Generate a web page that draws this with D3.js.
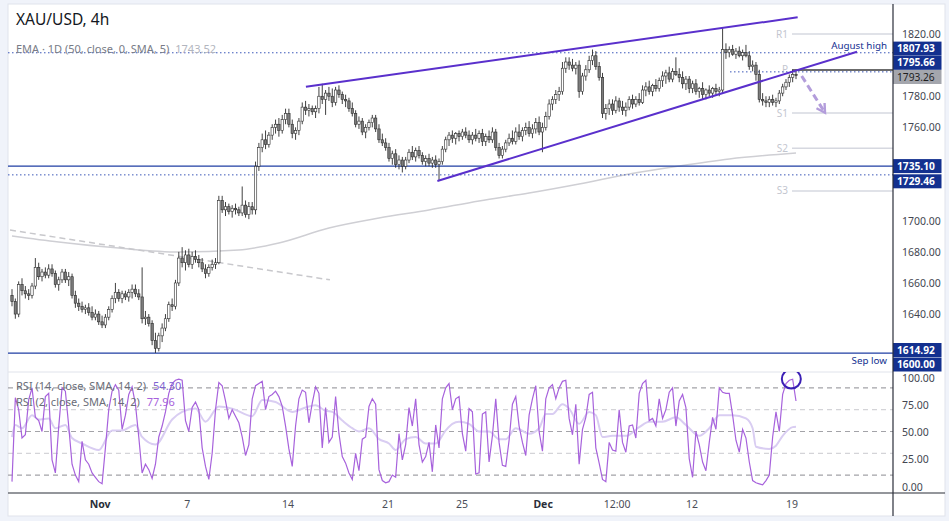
<!DOCTYPE html>
<html><head><meta charset="utf-8">
<script src="https://cdn.jsdelivr.net/npm/d3@7"></script>
<style>
html,body{margin:0;padding:0;background:#fff;}
svg{display:block;font-family:"Noto Sans",sans-serif;}
</style></head><body>
<svg id="c" width="949" height="521"></svg>
<script>
// ---------- DATA ----------
const opens = [
1652,1648,1640,1659,1655,1653,1652,1658,1670,1664,
1667,1665,1669,1666,1659,1662,1667,1662,1664,1652,
1647,1645,1643,1644,1641,1638,1640,1635,1633,1638,
1643,1650,1654,1650,1653,1651,1654,1656,1653,1651,
1637,1638,1634,1623,1618,1626,1631,1637,1646,1645,
1660,1676,1673,1678,1672,1677,1675,1673,1669,1666,
1670,1672,1673,1713,1707,1709,1706,1708,1707,1705,
1710,1704,1709,1707,1735,1747,1752,1749,1755,1760,
1762,1758,1765,1769,1762,1756,1758,1764,1773,1771,
1772,1770,1772,1780,1778,1782,1780,1776,1784,1781,
1778,1777,1772,1769,1762,1764,1757,1760,1763,1766,
1759,1752,1750,1747,1740,1743,1736,1739,1735,1739,
1744,1741,1745,1742,1738,1740,1737,1739,1736,1738,
1746,1752,1755,1753,1756,1754,1757,1755,1752,1755,
1753,1756,1751,1754,1752,1757,1747,1742,1746,1750,
1753,1751,1757,1754,1758,1760,1756,1759,1763,1757,
1760,1767,1775,1778,1781,1783,1798,1802,1800,1798,
1800,1783,1793,1797,1803,1806,1799,1792,1769,1772,
1775,1771,1777,1773,1771,1773,1778,1775,1778,1776,
1784,1786,1783,1787,1785,1790,1793,1795,1791,1796,
1794,1792,1788,1791,1785,1788,1783,1785,1781,1784,
1782,1785,1783,1784,1810,1808,1810,1807,1809,1806,
1808,1806,1799,1800,1794,1778,1777,1776,1778,1776,
1777,1782,1786,1789,1792,1794];
const highs = [
1656,1650,1661,1663,1658,1656,1660,1676,1673,1669,
1670,1672,1672,1668,1664,1669,1669,1667,1666,1655,
1650,1648,1646,1647,1645,1643,1642,1639,1640,1645,
1652,1660,1656,1655,1655,1656,1659,1659,1656,1670,
1642,1640,1636,1628,1628,1634,1640,1648,1650,1662,
1680,1683,1681,1682,1680,1681,1678,1676,1672,1672,
1675,1676,1716,1716,1712,1711,1710,1711,1709,1722,
1713,1712,1712,1738,1750,1756,1758,1757,1762,1765,
1766,1768,1772,1772,1765,1760,1766,1776,1777,1775,
1774,1774,1786,1788,1784,1786,1785,1786,1787,1783,
1781,1779,1776,1771,1767,1766,1762,1765,1768,1768,
1762,1756,1753,1750,1745,1746,1742,1741,1741,1746,
1748,1747,1748,1744,1742,1743,1741,1742,1740,1748,
1754,1757,1758,1757,1758,1759,1760,1758,1757,1759,
1758,1759,1756,1758,1760,1759,1750,1748,1752,1756,
1758,1760,1762,1760,1763,1764,1762,1766,1767,1763,
1770,1778,1780,1784,1786,1802,1805,1805,1804,1802,
1803,1795,1800,1806,1810,1809,1802,1795,1775,1778,
1778,1780,1779,1777,1776,1780,1781,1780,1782,1787,
1789,1790,1788,1791,1792,1796,1797,1799,1798,1805,
1798,1796,1793,1793,1790,1791,1786,1789,1785,1787,
1786,1788,1786,1824,1814,1812,1813,1811,1812,1810,
1813,1809,1803,1802,1797,1782,1780,1780,1781,1779,
1784,1788,1791,1794,1797,1797];
const lows = [
1645,1637,1638,1652,1650,1649,1650,1656,1662,1661,
1663,1663,1664,1657,1655,1660,1660,1658,1650,1644,
1642,1641,1640,1639,1636,1636,1633,1631,1631,1636,
1641,1647,1648,1647,1649,1648,1650,1651,1649,1634,
1633,1632,1620,1615,1616,1622,1629,1635,1642,1643,
1658,1670,1668,1670,1669,1673,1670,1667,1663,1664,
1668,1669,1672,1705,1703,1704,1702,1704,1703,1703,
1702,1701,1704,1704,1732,1744,1746,1747,1752,1756,
1754,1756,1762,1760,1753,1752,1755,1762,1768,1767,
1768,1766,1769,1775,1768,1777,1773,1774,1779,1775,
1773,1770,1767,1760,1759,1755,1753,1758,1760,1757,
1750,1748,1745,1738,1736,1734,1733,1731,1733,1737,
1739,1738,1740,1736,1735,1735,1734,1734,1726,1736,
1744,1748,1750,1749,1751,1752,1753,1750,1749,1751,
1750,1748,1748,1750,1750,1745,1740,1740,1744,1748,
1749,1749,1752,1751,1755,1754,1753,1756,1755,1744,
1758,1765,1771,1775,1777,1781,1795,1797,1796,1794,
1779,1781,1790,1795,1800,1797,1790,1766,1765,1768,
1768,1769,1770,1768,1767,1771,1772,1773,1774,1775,
1780,1781,1780,1783,1783,1786,1788,1789,1789,1793,
1789,1785,1784,1782,1782,1781,1779,1778,1778,1780,
1779,1781,1780,1782,1804,1805,1806,1804,1805,1803,
1805,1797,1796,1790,1776,1774,1773,1773,1774,1773,
1775,1780,1784,1786,1789,1791];
const closes = [
1648,1640,1659,1655,1653,1652,1658,1670,1664,1667,
1665,1669,1666,1659,1662,1667,1662,1664,1652,1647,
1645,1643,1644,1641,1638,1640,1635,1633,1638,1643,
1650,1654,1650,1653,1651,1654,1656,1653,1651,1637,
1638,1634,1623,1618,1626,1631,1637,1646,1645,1660,
1676,1673,1678,1672,1677,1675,1673,1669,1666,1670,
1672,1673,1713,1707,1709,1706,1708,1707,1705,1710,
1704,1709,1707,1735,1747,1752,1749,1755,1760,1762,
1758,1765,1769,1762,1756,1758,1764,1773,1771,1772,
1770,1772,1780,1778,1782,1780,1776,1784,1781,1778,
1777,1772,1769,1762,1764,1757,1760,1763,1766,1759,
1752,1750,1747,1740,1743,1736,1739,1735,1739,1744,
1741,1745,1742,1738,1740,1737,1739,1736,1738,1746,
1752,1755,1753,1756,1754,1757,1755,1752,1755,1753,
1756,1751,1754,1752,1757,1747,1742,1746,1750,1753,
1751,1757,1754,1758,1760,1756,1759,1763,1757,1760,
1767,1775,1778,1781,1783,1798,1802,1800,1798,1800,
1783,1793,1797,1803,1806,1799,1792,1769,1772,1775,
1771,1777,1773,1771,1773,1778,1775,1778,1776,1784,
1786,1783,1787,1785,1790,1793,1795,1791,1796,1794,
1792,1788,1791,1785,1788,1783,1785,1781,1784,1782,
1785,1783,1784,1810,1808,1810,1807,1809,1806,1808,
1806,1799,1800,1794,1778,1777,1776,1778,1776,1777,
1782,1786,1789,1792,1794,1793.26];

// RSI(2) value per bar
const rsi2 = [
4,81,70,44,47,79,90,63,60,50,
82,85,24,12,54,90,87,55,20,10,
4,41,24,20,12,8,4,2,35,70,
87,93,88,52,65,84,91,75,45,12,
20,15,7,20,45,55,68,85,94,97,
98,97,60,50,72,77,70,35,18,6,
30,70,95,92,78,62,70,64,58,45,
28,38,80,92,94,96,70,82,84,87,
82,73,55,34,18,55,80,88,86,58,
76,91,85,35,72,40,45,82,48,27,
21,12,6,30,14,43,45,73,80,75,
15,5,3,4,10,8,48,24,38,72,
55,80,38,22,27,40,13,56,35,80,
90,94,70,80,82,48,32,71,68,11,
12,66,68,22,46,80,40,19,18,42,
75,82,55,40,28,65,80,92,50,32,
80,90,93,80,90,96,97,62,47,75,
20,52,63,84,86,35,21,6,4,40,
33,32,70,40,31,55,56,44,85,94,
97,60,62,55,80,62,70,86,90,55,
78,84,72,25,8,50,38,22,14,40,
63,52,90,86,85,85,65,42,31,52,
44,22,5,3,2,1,5,10,45,68,
50,84,94,97,98,77.96];

// smoothed RSI line (bar index, value)
const rsiSmoothIdx = [0,1,3,6,8,11,13,16,18,21,26,30,33,37,39,43,48,51,55,58,62,66,72,75,79,84,88,91,94,96,99,102,104,107,110,113,115,118,121,124,127,130,132,134,137,140,143,146,148,151,155,158,160,162,165,167,170,173,175,177,180,184,188,191,195,199,202,206,209,212,216,220,222,223,227,229,231,234,235];
const rsiSmoothVal = [45,56,53,65,61,62,53,56,44,39,33,51,51,56,45,38,61,68,71,59,73,71,64,79,77,68,72,74,69,68,60,53,50,53,43,39,33,43,45,39,39,51,57,59,57,50,50,43,43,53,48,53,66,66,75,71,57,68,65,45,46,46,54,59,59,63,56,46,53,65,65,62,53,36,34,37,46,54,54.3];

// EMA 1D (50) line (bar index, price)
const emaIdx = [0,14,32,50,68,80,95,110,125,140,155,170,185,200,215,235];
const emaVal = [1690.2,1686.3,1682.4,1679.9,1681.2,1685.7,1695.3,1701.7,1706.9,1712.7,1717.8,1723.6,1730.0,1735.2,1739.7,1743.52];

// axis ticks
const priceTicks = [1620,1640,1660,1680,1700,1720,1740,1760,1780,1800,1820];
const rsiTicks = [0,25,50,75,100];
const rsiLevels = [90,70,50,30,10];
const dateTickIdx = [26.4,52.5,82.7,112.7,134.9,159.2,181.4,203.8,233.8];
const dateTickLbl = ["Nov","7","14","21","25","Dec","12:00","12","19"];

// levels / drawings
const pivotNames = ["R1","P","S1","S2","S3"];
const pivotVals = [1820.0,1796.9,1769.2,1746.5,1719.1];
const upperLine = [[88.1,1786.1],[235.5,1830.7]];
const lowerLine = [[127.5,1725.5],[253.3,1808.6]];
const greyDash = [[-0.6,1694],[95.3,1662]];
const arrowPts = [[236.7,1793],[243.7,1769.4]];
const augHigh = 1807.93, ray1795 = 1795.66, lvl1735 = 1735.10, lvl1729 = 1729.46, sepLow = 1614.92, lastPrice = 1793.26;
const emaLast = 1743.52, rsi14Last = 54.30, rsi2Last = 77.96;

// ---------- DRAW ----------
const svg = d3.select("#c");
const L=8, R=893, T=4, PB=372, RB=493, B=516, RE=945;
const x = d3.scaleLinear().domain([0,235]).range([12,796]);
const y = d3.scaleLinear().domain([1600,1820]).range([376.3,34]);
const yr = d3.scaleLinear().domain([0,100]).range([486,377]);
const NAVY = "#13308f", LINEBLUE = "#1f3ea3", PURP = "#5a30cc";

const defs = svg.append("defs");
defs.append("clipPath").attr("id","cp").append("rect").attr("x",L).attr("y",T).attr("width",R-L).attr("height",PB-T);
defs.append("clipPath").attr("id","cr").append("rect").attr("x",L).attr("y",PB).attr("width",R-L).attr("height",RB-PB);
defs.append("marker").attr("id","ah").attr("viewBox","0 0 10 10").attr("refX",8).attr("refY",5)
  .attr("markerWidth",4).attr("markerHeight",4).attr("orient","auto")
  .append("path").attr("d","M1,1 L8,5 L1,9").attr("fill","none").attr("stroke","#b39ddb").attr("stroke-width",2);

// background & frame
svg.append("rect").attr("width",949).attr("height",521).attr("fill","#f0f3fa");
svg.append("rect").attr("x",L).attr("y",T).attr("width",RE-L).attr("height",B-T).attr("fill","#fff").attr("stroke","#e0e3eb");

const gp = svg.append("g").attr("clip-path","url(#cp)");
const line = d3.line().x(d=>x(d[0])).y(d=>y(d[1]));

// EMA line
gp.append("path").attr("d", d3.line().curve(d3.curveMonotoneX).x((d,i)=>x(emaIdx[i])).y(d=>y(d))(emaVal))
  .attr("fill","none").attr("stroke","#cfcfd4").attr("stroke-width",1.5);
// grey dashed trend line
gp.append("path").attr("d", line(greyDash)).attr("fill","none").attr("stroke","#c8c8cc").attr("stroke-width",1.5).attr("stroke-dasharray","6,4");

// horizontal levels
function hline(v, x1, x2, color, dash, w){
  gp.append("line").attr("x1",x1).attr("x2",x2).attr("y1",y(v)).attr("y2",y(v))
    .attr("stroke",color).attr("stroke-width",w||1).attr("stroke-dasharray",dash||null);
}
hline(augHigh, L, R, "#3a56b8", "1.5,2.5");
hline(lvl1735, L, R, LINEBLUE, null, 1.2);
hline(lvl1729, L, R, "#3a56b8", "1.5,2.5");
hline(sepLow, L, R, LINEBLUE, null, 1.2);
// pivots
pivotNames.forEach((n,k)=>{
  const isP = n==="P";
  hline(pivotVals[k], 792, R, isP ? "#3a3a3a" : "#d6d8e0", null, 1.5);
  gp.append("text").attr("x",788).attr("y",y(pivotVals[k])+3.5).attr("text-anchor","end")
    .attr("font-size",10).attr("fill","#c3c6cf").text(n);
});
hline(ray1795, 730, R, "#3a56b8", "1.5,2.5");

// candles
const idx = d3.range(closes.length);
gp.append("g").selectAll("line").data(idx).join("line")
  .attr("x1",i=>x(i)).attr("x2",i=>x(i)).attr("y1",i=>y(highs[i])).attr("y2",i=>y(lows[i]))
  .attr("stroke","#2b2b2b").attr("stroke-width",0.9);
gp.append("g").selectAll("rect").data(idx).join("rect")
  .attr("x",i=>x(i)-1.2).attr("width",2.4)
  .attr("y",i=>y(Math.max(opens[i],closes[i])))
  .attr("height",i=>Math.max(0.8, Math.abs(y(opens[i])-y(closes[i]))))
  .attr("fill",i=>closes[i]>=opens[i] ? "#ffffff" : "#7c7c7c")
  .attr("stroke","#2b2b2b").attr("stroke-width",0.6);

// trend lines
[upperLine, lowerLine].forEach(l=>gp.append("path").attr("d",line(l)).attr("fill","none").attr("stroke",PURP).attr("stroke-width",2));
// arrow
gp.append("path").attr("d",line(arrowPts)).attr("fill","none").attr("stroke","#b39ddb").attr("stroke-width",3)
  .attr("stroke-dasharray","7,4").attr("marker-end","url(#ah)");

// text annotations
gp.append("text").attr("x",887).attr("y",y(augHigh)-4).attr("text-anchor","end").attr("font-size",9.8).attr("fill",NAVY).text("August high");
gp.append("text").attr("x",887).attr("y",y(sepLow)+11).attr("text-anchor","end").attr("font-size",9.8).attr("fill",NAVY).text("Sep low");

// legend
svg.append("text").attr("x",16).attr("y",25).attr("font-size",15.5).attr("fill","#131722").text("XAU/USD, 4h");
const leg = svg.append("text").attr("x",16).attr("y",53).attr("font-size",11);
leg.append("tspan").attr("fill","#787b86").text("EMA · 1D (50, close, 0, SMA, 5)");
leg.append("tspan").attr("fill","#b2b5be").attr("dx",6).text(emaLast.toFixed(2));

// pane separator
svg.append("line").attr("x1",L).attr("x2",R).attr("y1",PB).attr("y2",PB).attr("stroke","#e0e3eb");

// ---------- RSI PANE ----------
const gr = svg.append("g").attr("clip-path","url(#cr)");
rsiLevels.forEach(v=>{
  const dark = (v===90||v===10||v===50);
  gr.append("line").attr("x1",L).attr("x2",R).attr("y1",yr(v)).attr("y2",yr(v))
    .attr("stroke", dark ? "#a3a3a8" : "#d4d4d8").attr("stroke-width",1.2).attr("stroke-dasharray","5,4");
});
gr.append("path").attr("d", d3.line().curve(d3.curveMonotoneX).x((d,i)=>x(rsiSmoothIdx[i])).y(d=>yr(d))(rsiSmoothVal))
  .attr("fill","none").attr("stroke","#d9cdf2").attr("stroke-width",2);
gr.append("path").attr("d", d3.line().x((d,i)=>x(i)).y(d=>yr(d))(rsi2))
  .attr("fill","none").attr("stroke","#a762dc").attr("stroke-width",1.2);
gr.append("circle").attr("cx",x(233.6)).attr("cy",yr(98.2)).attr("r",9.5).attr("fill","none").attr("stroke","#3b1fb5").attr("stroke-width",2);

const l1 = svg.append("text").attr("x",16).attr("y",390).attr("font-size",11);
l1.append("tspan").attr("fill","#6a6d78").text("RSI (14, close, SMA, 14, 2)");
l1.append("tspan").attr("fill","#7e63d0").attr("dx",7).text(rsi14Last.toFixed(2));
const l2 = svg.append("text").attr("x",16).attr("y",406).attr("font-size",11);
l2.append("tspan").attr("fill","#6a6d78").text("RSI (2, close, SMA, 14, 2)");
l2.append("tspan").attr("fill","#a762dc").attr("dx",7).text(rsi2Last.toFixed(2));

// ---------- AXES ----------
// label box centres (stacked so that they do not collide)
const cLast = y(lastPrice)+1.4;
const c1735 = y(lvl1735);
const c1600 = Math.min(y(1600), PB-7.5);
const boxes = [
  [cLast, lastPrice, "#a4a6ad", "#1e1e1e", false],
  [cLast-14.2, ray1795, NAVY, "#fff", true],
  [cLast-28.4, augHigh, NAVY, "#fff", true],
  [c1735, lvl1735, NAVY, "#fff", true],
  [c1735+15.2, lvl1729, NAVY, "#fff", true],
  [Math.min(y(sepLow), c1600-14.5), sepLow, NAVY, "#fff", true],
  [c1600, 1600, NAVY, "#fff", true]
];
// price axis labels (skip those hidden behind label boxes)
const visTicks = priceTicks.filter(t => boxes.every(b => Math.abs(y(t) - b[0]) > 13));
const pa = svg.append("g").attr("font-size",10.5).attr("fill","#434651");
pa.selectAll("text").data(visTicks).join("text").attr("x",902).attr("y",d=>y(d)+4).text(d=>d.toFixed(2));
const ra = svg.append("g").attr("font-size",10.5).attr("fill","#434651");
ra.selectAll("text").data(rsiTicks).join("text").attr("x",902).attr("y",d=>yr(d)+4.5).text(d=>d.toFixed(2));

boxes.forEach(b=>{
  svg.append("rect").attr("x",R).attr("y",b[0]-7).attr("width",48.5).attr("height",14).attr("fill",b[2]);
  svg.append("text").attr("x",R+4).attr("y",b[0]+3.6).attr("font-size",10.2).attr("font-weight",b[4]?"bold":"normal")
    .attr("fill",b[3]).text(b[1].toFixed(2));
});

// date axis
const da = svg.append("g").attr("font-size",10.5);
da.selectAll("text").data(dateTickIdx).join("text").attr("x",d=>x(d)).attr("y",508).attr("text-anchor","middle")
  .attr("fill",(d,i)=> (dateTickLbl[i]==="Nov"||dateTickLbl[i]==="Dec") ? "#2a2e39" : "#4a4d57")
  .attr("font-weight",(d,i)=> (dateTickLbl[i]==="Nov"||dateTickLbl[i]==="Dec") ? "bold" : "normal")
  .text((d,i)=>dateTickLbl[i]);

// axis frame lines
svg.append("line").attr("x1",R).attr("x2",R).attr("y1",T).attr("y2",B).attr("stroke","#2a2e39").attr("stroke-width",1.2);
svg.append("line").attr("x1",L).attr("x2",RE).attr("y1",RB).attr("y2",RB).attr("stroke","#2a2e39").attr("stroke-width",1.2);
</script>
</body></html>
